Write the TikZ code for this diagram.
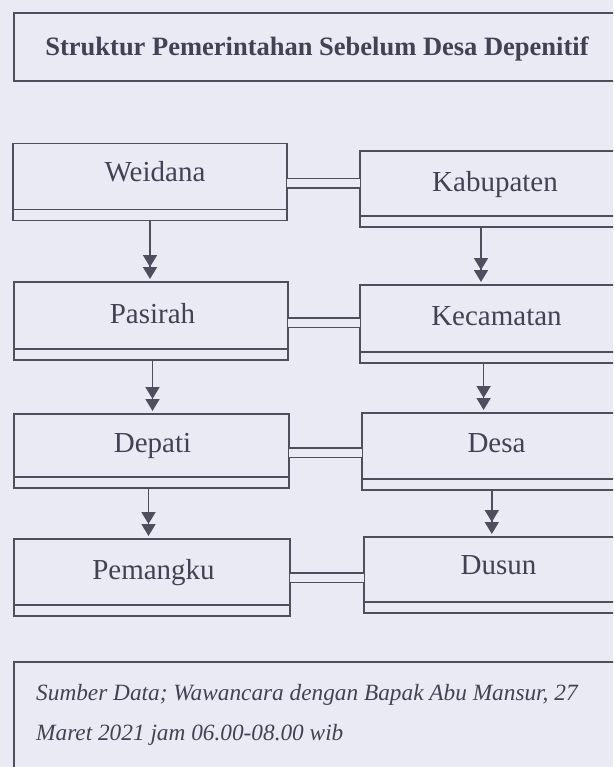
\documentclass[tikz,border=0pt]{standalone}
\usepackage{fontspec}
\setmainfont{Liberation Serif}
\usetikzlibrary{arrows.meta}
\definecolor{paper}{RGB}{233,234,243}
\definecolor{ink}{RGB}{78,78,94}
\definecolor{txt}{RGB}{66,66,84}
\tikzset{
  box/.style={draw=ink, line width=1.7pt, inner sep=0pt, outer sep=0pt, rectangle},
  ln/.style={draw=ink, line width=1.7pt},
  dbl/.style={draw=ink, line width=1.7pt, double=paper, double distance=8pt},
  arr/.style={draw=ink, line width=1.7pt, shorten >=3pt,
    -{Triangle[width=14pt,length=12pt,fill=ink] Triangle[width=14pt,length=12pt,fill=ink]}},
  lbl/.style={text=txt, inner sep=0pt, anchor=base, font=\fontsize{29}{34}\selectfont},
}
\begin{document}
\begin{tikzpicture}[x=1pt,y=-1pt]
\useasboundingbox (0,0) rectangle (613,767);
\fill[paper] (0,0) rectangle (613,767);
\clip (0,0) rectangle (613,767);

% title
\node[box, minimum width=636pt, minimum height=68pt] (tbox) at (332,47) {};
\node[text=txt, inner sep=0pt, anchor=base, font=\bfseries\fontsize{26.5}{30}\selectfont] (title) at (317,56) {Struktur Pemerintahan Sebelum Desa Depenitif};

% left column boxes
\node[box, minimum width=274pt, minimum height=77pt] (wei) at (150,182) {};
\node[box, minimum width=274pt, minimum height=78pt] (pas) at (151,321) {};
\node[box, minimum width=275pt, minimum height=74pt] (dep) at (151.5,451) {};
\node[box, minimum width=276pt, minimum height=77pt] (pem) at (152,577.5) {};
% right column boxes
\node[box, minimum width=290pt, minimum height=76pt] (kab) at (505,189) {};
\node[box, minimum width=290pt, minimum height=78pt] (kec) at (505,324) {};
\node[box, minimum width=288pt, minimum height=77pt] (des) at (506,451.5) {};
\node[box, minimum width=286pt, minimum height=76pt] (dus) at (507,575) {};

% inner lines
\foreach \b in {wei,pas,dep,pem,kab,kec,des,dus}
  \draw[ln] ([yshift=11pt]\b.south west) -- ([yshift=11pt]\b.south east);

% labels
\node[lbl] (weiT) at (155,182) {Weidana};
\node[lbl] (kabT) at (495,192) {Kabupaten};
\node[lbl] (pasT) at (152.5,323) {Pasirah};
\node[lbl] (kecT) at (496.5,325) {Kecamatan};
\node[lbl] (depT) at (152.5,452) {Depati};
\node[lbl] (desT) at (496.5,452) {Desa};
\node[lbl] (pemT) at (153.5,579) {Pemangku};
\node[lbl] (dusT) at (498.5,574) {Dusun};

% double connectors
\coordinate (r1) at (0,183.5);
\coordinate (r2) at (0,322.5);
\coordinate (r3) at (0,452.5);
\coordinate (r4) at (0,577.5);
\draw[dbl] (wei.east |- r1) -- (kab.west |- r1);
\draw[dbl] (pas.east |- r2) -- (kec.west |- r2);
\draw[dbl] (dep.east |- r3) -- (des.west |- r3);
\draw[dbl] (pem.east |- r4) -- (dus.west |- r4);

% arrows
\coordinate (la) at (150,0);
\coordinate (lb) at (152.5,0);
\coordinate (lc) at (148.5,0);
\coordinate (ra) at (481,0);
\coordinate (rb) at (483.6,0);
\coordinate (rc) at (491.8,0);
\draw[arr] (wei.south -| la) -- (pas.north -| la);
\draw[arr] (pas.south -| lb) -- (dep.north -| lb);
\draw[arr] (dep.south -| lc) -- (pem.north -| lc);
\draw[arr] (kab.south -| ra) -- (kec.north -| ra);
\draw[arr] (kec.south -| rb) -- (des.north -| rb);
\draw[arr] (des.south -| rc) -- (dus.north -| rc);

% footer
\node[box, minimum width=636pt, minimum height=140pt] (fbox) at (332,732) {};
\node[text=txt, inner sep=0pt, anchor=base west, font=\itshape\fontsize{23.3}{28}\selectfont] (f1) at (36,700) {Sumber Data; Wawancara dengan Bapak Abu Mansur, 27};
\node[text=txt, inner sep=0pt, anchor=base west, font=\itshape\fontsize{23.3}{28}\selectfont] (f2) at (36,740) {Maret 2021 jam 06.00-08.00 wib};
\end{tikzpicture}
\end{document}
